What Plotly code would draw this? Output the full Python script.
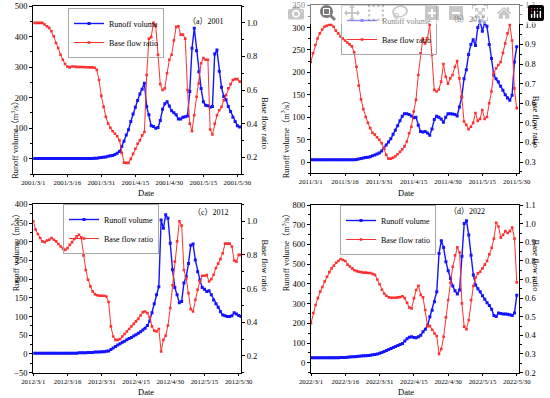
import pandas as pd
import plotly.graph_objects as go

W, H = 550, 398

# ---------------- data ----------------
start_dates = ["2001-03-01", "2011-03-01", "2012-03-01", "2022-03-01"]
panel_labels = ["（a）2001", "（b）2011", "（c）2012", "（d）2022"]

runoff_2001 = [1]*25 + [1, 1, 2, 2, 3, 4, 5, 6, 8, 10, 11, 14, 18, 24, 40, 57, 78, 95, 122, 147,
                        169, 191, 212, 228, 247, 171, 144, 108, 106, 100, 102, 125, 162, 180, 187,
                        173, 157, 151, 144, 130, 130, 136, 138, 140, 220, 362, 428, 354, 285, 230,
                        187, 175, 174, 169, 171, 343, 356, 287, 234, 204, 193, 171, 155, 136, 122,
                        108, 104]
ratio_2001 = [1.0, 1.0, 1.0, 1.0, 1.0, 0.99, 0.98, 0.97, 0.95, 0.92, 0.88, 0.85, 0.81, 0.78, 0.755,
              0.74, 0.735, 0.74, 0.74, 0.738, 0.737, 0.737, 0.737, 0.736, 0.736, 0.735, 0.735,
              0.733, 0.72, 0.66, 0.565, 0.50, 0.44, 0.40, 0.375, 0.355, 0.34, 0.325, 0.30, 0.226,
              0.168, 0.166, 0.166, 0.19, 0.22, 0.25, 0.28, 0.30, 0.33, 0.35, 0.69, 0.906, 0.915,
              1.0, 0.98, 0.81, 0.635, 0.60, 0.61, 0.70, 0.78, 0.81, 0.896, 0.976, 0.98, 0.93,
              0.93, 0.906, 0.60, 0.40, 0.355, 0.45, 0.56, 0.64, 0.76, 0.79, 0.78, 0.78, 0.365,
              0.335, 0.40, 0.45, 0.48, 0.50, 0.54, 0.57, 0.61, 0.635, 0.66, 0.665, 0.665, 0.65]

runoff_2011 = [5]*19 + [5, 6, 7, 8, 9, 10, 11, 12, 14, 16, 18, 20, 25, 31, 38, 45, 52, 62, 71, 81,
                        92, 102, 108, 108, 106, 103, 99, 100, 82, 68, 67, 68, 65, 60, 74, 95, 102,
                        100, 96, 89, 100, 108, 108, 107, 106, 103, 123, 145, 186, 206, 240, 262,
                        273, 260, 300, 315, 292, 310, 303, 262, 231, 194, 186, 179, 169, 160, 150,
                        143, 138, 149, 223, 257]
ratio_2011 = [0.81, 0.855, 0.897, 0.93, 0.956, 0.976, 0.99, 0.995, 1.0, 1.0, 0.99, 0.97, 0.956,
              0.94, 0.93, 0.92, 0.91, 0.90, 0.89, 0.86, 0.786, 0.69, 0.62, 0.57, 0.53, 0.50,
              0.473, 0.45, 0.44, 0.427, 0.414, 0.397, 0.37, 0.337, 0.318, 0.318, 0.322, 0.33,
              0.34, 0.352, 0.365, 0.38, 0.405, 0.447, 0.48, 0.558, 0.617, 0.744, 0.854, 0.93,
              0.905, 0.93, 1.0, 0.846, 0.668, 0.66, 0.67, 0.71, 0.80, 0.735, 0.70, 0.727, 0.744,
              0.786, 0.815, 0.727, 0.634, 0.507, 0.49, 0.468, 0.48, 0.50, 0.55, 0.51, 0.52,
              0.566, 0.52, 0.53, 0.60, 0.66, 0.756, 0.778, 0.795, 0.81, 0.857, 0.905, 0.956,
              1.0, 0.92, 0.676, 0.575]

runoff_2012 = [2]*20 + [3, 3, 3, 3, 4, 4, 4, 5, 5, 5, 6, 6, 7, 8, 12, 16, 20, 24, 27, 31, 34, 38,
                        41, 44, 48, 51, 55, 59, 64, 69, 76, 88, 110, 134, 158, 180, 358, 336, 372,
                        363, 296, 225, 178, 158, 137, 140, 190, 207, 242, 291, 294, 251, 220, 198,
                        178, 173, 167, 169, 158, 144, 134, 125, 113, 104, 102, 100, 100, 102, 110,
                        107, 103, 100]
ratio_2012 = [1.0, 0.95, 0.924, 0.90, 0.88, 0.876, 0.885, 0.89, 0.90, 0.89, 0.88, 0.865, 0.85,
              0.837, 0.83, 0.84, 0.86, 0.876, 0.894, 0.91, 0.92, 0.904, 0.797, 0.71, 0.652,
              0.613, 0.583, 0.567, 0.56, 0.557, 0.557, 0.557, 0.553, 0.52, 0.375, 0.315, 0.295,
              0.295, 0.30, 0.315, 0.33, 0.345, 0.36, 0.375, 0.39, 0.405, 0.42, 0.44, 0.46, 0.464,
              0.454, 0.43, 0.375, 0.35, 0.345, 0.36, 0.226, 0.295, 0.32, 0.38, 0.484, 0.62, 0.76,
              0.88, 1.0, 0.974, 0.71, 0.66, 0.573, 0.478, 0.464, 0.533, 0.593, 0.642, 0.676,
              0.676, 0.68, 0.642, 0.656, 0.682, 0.722, 0.748, 0.775, 0.81, 0.867, 0.867, 0.867,
              0.85, 0.767, 0.76, 0.80, 0.80]

runoff_2022 = [25]*13 + [26, 27, 27, 28, 29, 30, 31, 32, 33, 34, 35, 36, 37, 38, 40, 42, 45, 48,
                         52, 57, 62, 67, 72, 77, 82, 87, 92, 98, 110, 122, 130, 132, 128, 127, 132,
                         140, 157, 170, 191, 233, 267, 310, 360, 555, 619, 585, 513, 467, 428, 389,
                         365, 349, 369, 540, 707, 721, 648, 546, 445, 394, 375, 360, 340, 322, 305,
                         290, 272, 240, 235, 252, 250, 248, 247, 246, 244, 240, 252, 343]
ratio_2022 = [0.465, 0.52, 0.563, 0.60, 0.635, 0.66, 0.69, 0.715, 0.74, 0.76, 0.775, 0.79, 0.80,
              0.81, 0.805, 0.80, 0.78, 0.77, 0.76, 0.75, 0.745, 0.742, 0.74, 0.737, 0.737, 0.735,
              0.735, 0.73, 0.725, 0.70, 0.675, 0.645, 0.625, 0.613, 0.605, 0.602, 0.602, 0.602,
              0.604, 0.606, 0.61, 0.60, 0.575, 0.55, 0.545, 0.60, 0.644, 0.667, 0.617, 0.604,
              0.536, 0.45, 0.45, 0.43, 0.41, 0.397, 0.30, 0.327, 0.393, 0.497, 0.59, 0.683, 0.769,
              0.83, 0.873, 0.845, 0.572, 0.447, 0.433, 0.483, 0.59, 0.665, 0.711, 0.733, 0.742,
              0.76, 0.78, 0.80, 0.835, 0.87, 0.92, 1.005, 0.985, 0.925, 0.94, 0.96, 0.95, 0.96,
              0.98, 0.92, 0.685]

runoff_series = [runoff_2001, runoff_2011, runoff_2012, runoff_2022]
ratio_series = [ratio_2001, ratio_2011, ratio_2012, ratio_2022]

# ---------------- layout settings (pixels) ----------------
# plot boxes: left, right, top, bottom
boxes = [(33.3, 241.0, 6.0, 174.0),
         (310.7, 519.3, 5.0, 173.3),
         (33.3, 241.0, 204.3, 372.7),
         (311.0, 519.3, 205.0, 372.7)]
x_span_days = [91.6, 91.15, 91.0, 91.1]
left_ranges = [[-50, 500.5], [-25, 350.3], [-50.2, 400.2], [-50.5, 800.5]]
left_dtick = [100, 50, 50, 100]
right_ranges = [[0.1, 1.1005], [0.243, 1.1008], [0.1, 1.1005], [0.1995, 1.1005]]
right_dtick = [0.2, 0.1, 0.2, 0.1]
legend_pos = [(68, 8), (341, 5), (63, 204), (340, 205)]
label_pos = [(206, 15.5), (487, 13), (211, 212), (487, 211)]
date_center = [193.0, 192.5, 391.6, 391.6]   # vertical centre of the "Date" title

FONT = "Liberation Serif, Times New Roman, Noto Sans CJK SC, serif"
BLUE = "#1414ff"
RED = "#ff3030"


def px(x):
    return x / W


def py(y):
    return 1 - y / H


fig = go.Figure()
annotations = []
layout = {}

for i in range(4):
    n = i + 1
    xa = "x" if n == 1 else f"x{n}"
    ya = f"y{2*n-1}" if n > 1 else "y"
    yb = f"y{2*n}"
    lg = "legend" if n == 1 else f"legend{n}"
    dates = pd.date_range(start_dates[i], periods=len(runoff_series[i]), freq="D")
    fig.add_trace(go.Scatter(x=dates, y=runoff_series[i], name="Runoff volume",
                             mode="lines+markers", xaxis=xa, yaxis=ya, legend=lg,
                             line=dict(color=BLUE, width=1.4),
                             marker=dict(color=BLUE, size=3, symbol="square")))
    fig.add_trace(go.Scatter(x=dates, y=ratio_series[i], name="Base flow ratio",
                             mode="lines+markers", xaxis=xa, yaxis=yb, legend=lg,
                             line=dict(color=RED, width=1.0),
                             marker=dict(color=RED, size=2.6, symbol="square")))

    l, r, t, b = boxes[i]
    t0 = pd.Timestamp(start_dates[i])
    t1 = t0 + pd.Timedelta(days=x_span_days[i])
    xkey = "xaxis" if n == 1 else f"xaxis{n}"
    yakey = "yaxis" if n == 1 else f"yaxis{2*n-1}"
    ybkey = f"yaxis{2*n}"
    layout[xkey] = dict(domain=[px(l), px(r)], anchor=ya, range=[t0, t1], type="date",
                        tick0=t0, dtick=15 * 86400000, tickformat="%Y/%-m/%-d",
                        ticks="outside", ticklen=2, tickcolor="black", ticklabelstandoff=0,
                        showline=True, linecolor="black", linewidth=1, mirror=True,
                        showgrid=False, zeroline=False, automargin=False,
                        tickfont=dict(family=FONT, size=6.8, color="black"))
    layout[yakey] = dict(domain=[py(b), py(t)], anchor=xa, range=left_ranges[i],
                         tick0=0, dtick=left_dtick[i], ticks="outside", ticklen=3,
                         tickcolor="black", showline=True, linecolor="black", linewidth=1,
                         showgrid=False, zeroline=False, automargin=False,
                         minor=dict(ticks="outside", ticklen=2, dtick=left_dtick[i] / 2,
                                    tickcolor="black"),
                         tickfont=dict(family=FONT, size=8.5, color="black"))
    layout[ybkey] = dict(overlaying=ya, anchor=xa, side="right", range=right_ranges[i],
                         tick0=0, dtick=right_dtick[i], tickformat=".1f", ticks="outside",
                         ticklen=3, tickcolor="black", showline=True, linecolor="black",
                         linewidth=1, showgrid=False, zeroline=False, automargin=False,
                         minor=dict(ticks="outside", ticklen=2, dtick=right_dtick[i] / 2,
                                    tickcolor="black"),
                         tickfont=dict(family=FONT, size=8.5, color="black"))
    lx, ly = legend_pos[i]
    layout[lg] = dict(x=px(lx), y=py(ly), xanchor="left", yanchor="top",
                      bgcolor="rgba(255,255,255,0)", bordercolor="#a8a8a8", borderwidth=1,
                      font=dict(family=FONT, size=8, color="black"),
                      itemwidth=30, tracegroupgap=0)

    cx = (l + r) / 2
    cy = (t + b) / 2
    annotations.append(dict(x=px(cx), y=py(date_center[i]), xref="paper", yref="paper",
                            yanchor="middle", text="Date", showarrow=False, borderpad=0,
                            font=dict(family=FONT, size=8.5, color="black")))
    annotations.append(dict(x=px(l - 25.5), y=py(cy + 5), xref="paper", yref="paper",
                            text="Runoff volume（m<sup>3</sup>/s）", textangle=-90,
                            showarrow=False, font=dict(family=FONT, size=8.3, color="black")))
    annotations.append(dict(x=px(r + 24), y=py(cy + 5), xref="paper", yref="paper",
                            text="Base flow ratio", textangle=90, showarrow=False,
                            font=dict(family=FONT, size=8.5, color="black")))
    lbx, lby = label_pos[i]
    annotations.append(dict(x=px(lbx), y=py(lby), xref="paper", yref="paper",
                            text=panel_labels[i], showarrow=False,
                            font=dict(family=FONT, size=8, color="black")))

fig.update_layout(width=W, height=H, margin=dict(l=0, r=0, t=0, b=0),
                  paper_bgcolor="white", plot_bgcolor="white",
                  showlegend=True, annotations=annotations, **layout)

# remove the browser's default page margin so the 550x398 figure fills the window
fig.write_html("out.html",
               post_script="document.body.style.margin='0px';"
                           "document.body.style.overflow='hidden';")
